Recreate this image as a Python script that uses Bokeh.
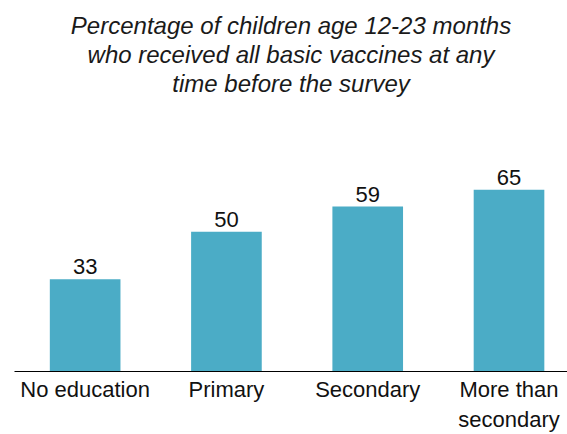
from bokeh.plotting import figure
from bokeh.models import ColumnDataSource, Range1d, FixedTicker, Title
from bokeh.embed import file_html
from bokeh.resources import INLINE
from bokeh.core.properties import value

categories = ["No education", "Primary", "Secondary", "More than\nsecondary"]
values = [33, 50, 59, 65]
title_lines = ["Percentage of children age 12-23 months",
               "who received all basic vaccines at any",
               "time before the survey"]

xs = list(range(len(categories)))
src = ColumnDataSource(dict(x=xs, top=values, label=[str(v) for v in values]))

p = figure(width=567, height=434, output_backend="svg", toolbar_location=None,
           x_range=Range1d(-0.5, 3.414), y_range=Range1d(0, 98.4),
           y_axis_location=None, min_border_left=14, min_border_right=0,
           min_border_top=0, min_border_bottom=0)
p.outline_line_color = None
p.xgrid.visible = False
p.ygrid.visible = False
p.background_fill_color = "white"
p.border_fill_color = "white"

for line in reversed(title_lines):
    t = Title(text=line, align="center", text_font="Liberation Sans",
              text_font_size="24px", text_font_style="italic", text_color="#1a1a1a",
              standoff=0, offset=0)
    p.add_layout(t, "above")
# blank spacer above the title block
p.add_layout(Title(text=" ", text_font_size="7px", standoff=0), "above")

p.vbar(x="x", top="top", width=0.5, source=src, fill_color="#4BACC6", line_color=None)
p.text(x="x", y="top", text="label", source=src, text_align="center",
       text_baseline="bottom", y_offset=-5, text_font=value("Liberation Sans"),
       text_font_size="22px", text_color="#111111")

ax = p.xaxis[0]
ax.ticker = FixedTicker(ticks=xs)
ax.major_label_overrides = {i: c for i, c in zip(xs, categories)}
ax.major_tick_line_color = None
ax.minor_tick_line_color = None
ax.major_tick_out = 0
ax.major_tick_in = 0
ax.axis_line_color = "black"
ax.axis_line_width = 1
ax.major_label_standoff = 5
ax.major_label_text_font = "Liberation Sans"
ax.major_label_text_font_size = "22px"
ax.major_label_text_color = "#111111"

open("out.html", "w").write(file_html(p, INLINE))
